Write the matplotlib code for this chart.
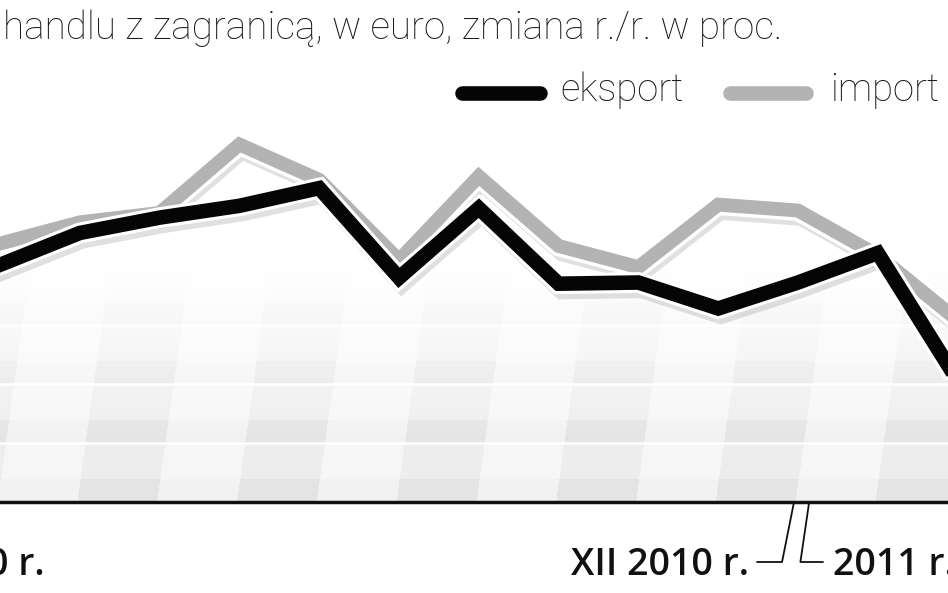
import numpy as np
import matplotlib
matplotlib.use('Agg')
import matplotlib.pyplot as plt
import matplotlib.patheffects as pe
from matplotlib.lines import Line2D

# months: II 2010 ... II 2011 (index 10 = XII 2010)
months = ['II 2010', 'III 2010', 'IV 2010', 'V 2010', 'VI 2010', 'VII 2010', 'VIII 2010',
          'IX 2010', 'X 2010', 'XI 2010', 'XII 2010', 'I 2011', 'II 2011']
eksport = [20.1, 22.8, 24.1, 25.1, 26.6, 19.0, 24.9, 18.5, 18.6, 16.4, 18.6, 21.1, 10.3]
importy = [21.9, 23.7, 24.5, 30.3, 27.3, 20.5, 27.6, 21.7, 19.9, 25.2, 24.7, 20.9, 15.4]
grid_vals = [5, 10, 15]

title = 'handlu z zagranicą, w euro, zmiana r./r. w proc.'

W, H = 948, 593
fig = plt.figure(figsize=(W / 100, H / 100), dpi=100)
fig.patch.set_facecolor('white')

base_px = 502
ax = fig.add_axes([0, (H - base_px) / H, 1, base_px / H])
px_per_unit = 11.8
px_per_month = 79.8
xmax = W / px_per_month
ymax = base_px / px_per_unit
ax.set_xlim(0, xmax)
ax.set_ylim(0, ymax)

# faint checkered background that fades upwards
yy, xx = np.mgrid[0:base_px, 0:W]
depth = base_px - yy
col = np.floor((xx - 0.14 * depth + 3) / px_per_month).astype(int)
dark = (col % 2 == 1)
frac = (depth % 59) / 59.0
amount = np.where(dark, 0.105, 0.05) * np.where(frac < 0.4, 1.0, 0.65)
fade = np.clip((235 - depth) / 175.0, 0, 1)
val = 1 - amount * fade
img = np.dstack([val, val, val])
ax.imshow(img, extent=(0, xmax, 0, ymax), origin='upper', aspect='auto', zorder=0,
          interpolation='bilinear')

for g in grid_vals:
    ax.axhline(g, color='white', lw=1.8, zorder=1)

x = np.arange(len(months))
shadow = pe.SimpleLineShadow(offset=(2, -6), shadow_color='#999999', alpha=0.3)
ax.plot(x, importy, color='#b3b3b3', lw=10, solid_joinstyle='miter', zorder=3,
        path_effects=[shadow, pe.Stroke(linewidth=15, foreground='white'), pe.Normal()])
ax.plot(x, eksport, color='#050505', lw=10.5, solid_joinstyle='miter', zorder=4,
        path_effects=[shadow, pe.Stroke(linewidth=15, foreground='white'), pe.Normal()])

ax.axhline(0, color='#111111', lw=2.5, zorder=5, clip_on=False)
for s in ax.spines.values():
    s.set_visible(False)
ax.set_xticks([])
ax.set_yticks([])

# title and legend
fam_light = ['Roboto', 'DejaVu Sans']
fig.text(3 / W, 1 - 39 / H, title, fontsize=27.8, family=fam_light, fontweight='light',
         color='#1a1a1a', va='baseline', ha='left')

ly = 1 - 93 / H
fig.add_artist(Line2D([462 / W, 540 / W], [ly, ly], color='#050505', lw=10.5,
                      solid_capstyle='round'))
fig.text(560 / W, 1 - 101 / H, 'eksport', fontsize=27.5, family=fam_light, fontweight='light',
         color='#1a1a1a', va='baseline')
fig.add_artist(Line2D([730 / W, 806 / W], [ly, ly], color='#b3b3b3', lw=10.5,
                      solid_capstyle='round'))
fig.text(830 / W, 1 - 101 / H, 'import', fontsize=27.5, family=fam_light, fontweight='light',
         color='#1a1a1a', va='baseline')

# bottom labels
dec = months.index('XII 2010')
yb = -(575 - base_px) / px_per_unit
yc = -(562 - base_px) / px_per_unit
lab_kw = dict(fontsize=27, family=['Open Sans', 'DejaVu Sans'], fontweight='semibold',
              color='#111111', va='baseline')
ax.text(dec - 0.61, yb, 'XII 2010 r.', ha='right', **lab_kw)
ax.text(dec + 0.44, yb, '2011 r.', ha='left', **lab_kw)
ax.text(45 / px_per_month, yb, 'II 2010 r.', ha='right', **lab_kw)
ax.plot([dec - 0.51, dec - 0.2, dec - 0.05], [yc, yc, 0], color='#111111', lw=1.3,
        clip_on=False)
ax.plot([dec + 0.14, dec + 0.03, dec + 0.31], [0, yc, yc], color='#111111', lw=1.3,
        clip_on=False)

fig.savefig('out.png', dpi=100)
